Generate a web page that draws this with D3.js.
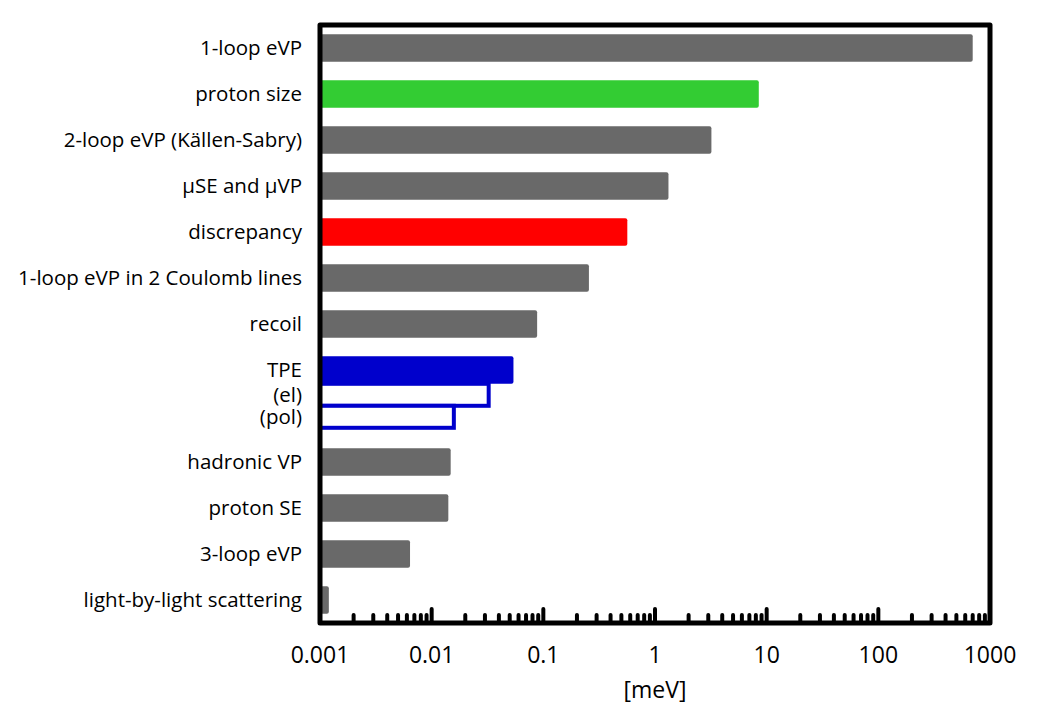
<!DOCTYPE html>
<html>
<head>
<meta charset="utf-8">
<script src="https://cdn.jsdelivr.net/npm/d3@7/dist/d3.min.js"></script>
<style>
  body { margin: 0; background: #fff; }
  text { font-family: "Open Sans", sans-serif; fill: #000; }
</style>
</head>
<body>
<div id="chart"></div>
<script>
// rows of the chart, top to bottom ('' = spare row used by the TPE parts)
var categories = [
    '1-loop eVP',
    'proton size',
    '2-loop eVP (Källen-Sabry)',
    'μSE and μVP',
    'discrepancy',
    '1-loop eVP in 2 Coulomb lines',
    'recoil',
    'TPE',
    '',
    'hadronic VP',
    'proton SE',
    '3-loop eVP',
    'light-by-light scattering'
];
// size of each contribution [meV]
var values = [700, 8.5, 3.2, 1.32, 0.565, 0.256, 0.088, 0.054, null, 0.0148, 0.0141, 0.0064, 0.0012];
var bar_colors = ['#696969', '#33cc33', '#696969', '#696969', '#ff0000', '#696969', '#696969', '#0000cc', null, '#696969', '#696969', '#696969', '#696969'];

// parts of the TPE term
var tpe_parts = ['(el)', '(pol)'];
var tpe_values = [0.0324, 0.0158];

// tick labels
var tick_values = [0.001, 0.01, 0.1, 1, 10, 100, 1000];
var tick_labels = ['0.001', '0.01', '0.1', '1', '10', '100', '1000'];

var chart_width = 1039;
var chart_height = 722;
var left = 320, right = 990, top_y = 25, bottom_y = 623;
var label_size = '20.5px';

var svg = d3.select('#chart')
    .append('svg')
    .attr('width', chart_width)
    .attr('height', chart_height);

// Escalas
var x_scale = d3.scaleLog()
    .domain([0.001, 1000])
    .range([left, right]);

var y_scale = d3.scaleBand()
    .domain(d3.range(categories.length))
    .range([top_y, bottom_y])
    .paddingInner(0.4)
    .paddingOuter(0.2);

var data = categories.map(function (c, i) {
    return { name: c, num: values[i], color: bar_colors[i], i: i };
}).filter(function (d) { return d.num !== null; });

// TPE parts (drawn first so the TPE bar covers their top edge)
var tpe_i = categories.indexOf('TPE');
var tpe_bottom = y_scale(tpe_i) + y_scale.bandwidth();
var part_h = 22;

svg.selectAll('rect.part')
    .data(tpe_values)
    .enter()
    .append('rect')
    .attr('class', 'part')
    .attr('x', x_scale(0.001))
    .attr('y', function (d, i) { return tpe_bottom + i * part_h; })
    .attr('width', function (d) { return x_scale(d) - x_scale(0.001); })
    .attr('height', part_h)
    .attr('fill', '#fff')
    .attr('stroke', '#0000cc')
    .attr('stroke-width', 4);

// Barras
svg.selectAll('rect.bar')
    .data(data)
    .enter()
    .append('rect')
    .attr('class', 'bar')
    .attr('x', x_scale(0.001))
    .attr('y', function (d) { return y_scale(d.i); })
    .attr('width', function (d) { return x_scale(d.num) - x_scale(0.001); })
    .attr('height', y_scale.bandwidth())
    .attr('rx', 2)
    .attr('fill', function (d) { return d.color; });

// Rotulos das barras
svg.selectAll('text.cat')
    .data(data)
    .enter()
    .append('text')
    .attr('class', 'cat')
    .attr('x', 302)
    .attr('y', function (d) { return y_scale(d.i) + y_scale.bandwidth() / 2; })
    .attr('dy', '0.35em')
    .attr('text-anchor', 'end')
    .style('font-size', label_size)
    .text(function (d) { return d.name; });

svg.selectAll('text.part')
    .data(tpe_parts)
    .enter()
    .append('text')
    .attr('class', 'part')
    .attr('x', 302)
    .attr('y', function (d, i) { return tpe_bottom + i * part_h + part_h / 2; })
    .attr('dy', '0.35em')
    .attr('text-anchor', 'end')
    .style('font-size', label_size)
    .text(function (d) { return d; });

// Ticks (minor and major, pointing up from the bottom)
var minor = [];
tick_values.slice(0, -1).forEach(function (t) {
    for (var m = 2; m <= 9; m++) minor.push(t * m);
});

svg.selectAll('line.minor')
    .data(minor)
    .enter()
    .append('line')
    .attr('x1', function (d) { return x_scale(d); })
    .attr('x2', function (d) { return x_scale(d); })
    .attr('y1', bottom_y)
    .attr('y2', bottom_y - 8)
    .attr('stroke', '#000')
    .attr('stroke-width', 4)
    .attr('stroke-linecap', 'round');

svg.selectAll('line.major')
    .data(tick_values)
    .enter()
    .append('line')
    .attr('x1', function (d) { return x_scale(d); })
    .attr('x2', function (d) { return x_scale(d); })
    .attr('y1', bottom_y)
    .attr('y2', bottom_y - 14)
    .attr('stroke', '#000')
    .attr('stroke-width', 4)
    .attr('stroke-linecap', 'round');

// Moldura
svg.append('rect')
    .attr('x', left)
    .attr('y', top_y)
    .attr('width', right - left)
    .attr('height', bottom_y - top_y)
    .attr('fill', 'none')
    .attr('stroke', '#000')
    .attr('stroke-width', 5)
    .attr('stroke-linejoin', 'round');

// Rotulos do eixo x
svg.selectAll('text.tick')
    .data(tick_values)
    .enter()
    .append('text')
    .attr('class', 'tick')
    .attr('x', function (d) { return x_scale(d); })
    .attr('y', 663)
    .attr('text-anchor', 'middle')
    .style('font-size', '23px')
    .text(function (d, i) { return tick_labels[i]; });

svg.append('text')
    .attr('x', 655)
    .attr('y', 698)
    .attr('text-anchor', 'middle')
    .style('font-size', '23px')
    .text('[meV]');
</script>
</body>
</html>
